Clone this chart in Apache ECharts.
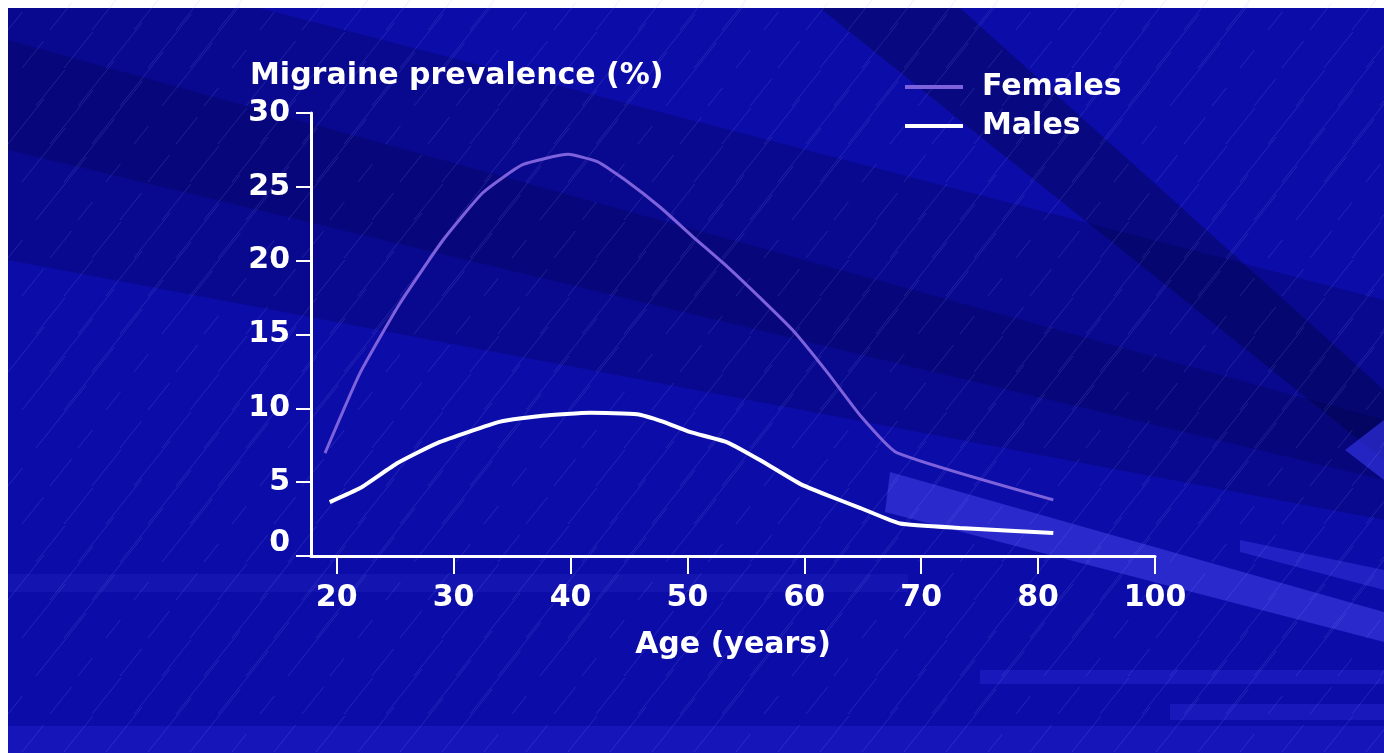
<!DOCTYPE html>
<html>
<head>
<meta charset="utf-8">
<style>
  html, body { margin: 0; padding: 0; background: #ffffff; }
  #chart { width: 1384px; height: 753px; }
</style>
<script src="https://cdn.jsdelivr.net/npm/echarts@6/dist/echarts.min.js"></script>
</head>
<body>
<div id="chart"></div>
<script>
// ---- Data ----
const femaleAges   = [19.0, 22.0, 25.4, 29.1, 32.5, 35.9, 39.8, 42.3, 44.8, 47.7, 50.5, 53.4, 56.2, 59.0, 62.0, 64.8, 67.9, 81.3];
const femaleValues = [6.97, 12.4, 17.1, 21.4, 24.6, 26.5, 27.2, 26.7, 25.4, 23.6, 21.6, 19.6, 17.5, 15.3, 12.4, 9.5, 7.0, 3.8];
const maleAges     = [19.4, 22.0, 25.2, 28.6, 34.0, 37.6, 41.7, 45.7, 47.9, 50.2, 53.4, 56.2, 59.6, 62.0, 64.8, 68.2, 73.3, 81.3];
const maleValues   = [3.65, 4.6, 6.3, 7.65, 9.1, 9.5, 9.7, 9.6, 9.1, 8.4, 7.7, 6.5, 4.9, 4.1, 3.25, 2.2, 1.9, 1.55];
// x tick positions on the (compressed) axis and the labels printed there
const xTickValues  = [20, 30, 40, 50, 60, 70, 80, 90];
const xTickLabels  = ['20', '30', '40', '50', '60', '70', '80', '100'];
const seriesNames  = ['Females', 'Males'];

const FONT = 'DejaVu Sans';
const femaleData = femaleAges.map((a, i) => [a, femaleValues[i]]);
const maleData   = maleAges.map((a, i) => [a, maleValues[i]]);

// ---- decorative background ----
const bg = [];
const deco = (el, z) => { el.z = z; el.silent = true; bg.push(el); };
deco({ type: 'rect', shape: { x: 8, y: 8, width: 1376, height: 745 }, style: { fill: '#0c0ca8' } }, -100);
deco({ type: 'polygon', shape: { points: [[8,8],[260,8],[1384,300],[1384,520],[8,260]] }, style: { fill: 'rgba(0,0,60,0.22)' } }, -99);
deco({ type: 'polygon', shape: { points: [[8,40],[8,150],[1384,480],[1384,420]] }, style: { fill: 'rgba(0,0,50,0.22)' } }, -98);
deco({ type: 'polygon', shape: { points: [[820,8],[960,8],[1384,390],[1384,460]] }, style: { fill: 'rgba(0,0,40,0.30)' } }, -97);
deco({ type: 'polygon', shape: { points: [[890,472],[1384,612],[1384,642],[885,512]] }, style: { fill: 'rgba(70,70,240,0.50)' } }, -96);
deco({ type: 'polygon', shape: { points: [[1345,450],[1384,420],[1384,480]] }, style: { fill: 'rgba(60,60,255,0.55)' } }, -96);
deco({ type: 'polygon', shape: { points: [[1240,540],[1384,570],[1384,590],[1240,552]] }, style: { fill: 'rgba(60,60,230,0.45)' } }, -96);
deco({ type: 'rect', shape: { x: 8, y: 574, width: 900, height: 18 }, style: { fill: 'rgba(40,40,200,0.30)' } }, -96);
deco({ type: 'rect', shape: { x: 980, y: 670, width: 404, height: 14 }, style: { fill: 'rgba(40,40,210,0.45)' } }, -96);
deco({ type: 'rect', shape: { x: 1170, y: 704, width: 214, height: 16 }, style: { fill: 'rgba(40,40,210,0.45)' } }, -96);
deco({ type: 'rect', shape: { x: 8, y: 726, width: 1376, height: 27 }, style: { fill: 'rgba(30,30,200,0.55)' } }, -96);
// faint diagonal streak texture (deterministic grid)
for (let gy = 0; gy < 20; gy++) {
  for (let gx = 0; gx < 34; gx++) {
    const x0 = 8 + gx * 42 + (gy % 3) * 14;
    const y0 = 30 + gy * 38;
    const len = 18 + ((gx * 7 + gy * 13) % 6) * 9;
    deco({ type: 'line', shape: { x1: x0, y1: y0, x2: x0 + len * 0.8, y2: y0 - len },
      style: { stroke: 'rgba(150,150,255,0.18)', lineWidth: 1 } }, -95);
  }
}
// y-axis title
deco({ type: 'text', x: 250, y: 76,
  style: { text: 'Migraine prevalence (%)', fill: '#ffffff', font: 'bold 30px "' + FONT + '"', textVerticalAlign: 'middle', textAlign: 'left' } }, 10);

const chart = echarts.init(document.getElementById('chart'), null, { renderer: 'canvas' });
chart.setOption({
  animation: false,
  backgroundColor: 'transparent',
  graphic: { elements: bg },
  grid: { left: 311, right: 229, top: 113, bottom: 197 },
  legend: {
    orient: 'vertical', left: 900, top: 67, itemGap: 9,
    icon: 'rect', itemWidth: 58, itemHeight: 4,
    data: seriesNames,
    textStyle: { color: '#ffffff', fontSize: 30, fontWeight: 'bold', fontFamily: FONT, padding: [0, 0, 0, 14] }
  },
  xAxis: {
    type: 'value', min: 17.8, max: 90,
    name: 'Age (years)', nameLocation: 'middle', nameGap: 74,
    nameTextStyle: { color: '#ffffff', fontSize: 30, fontWeight: 'bold', fontFamily: FONT },
    axisLine: { show: true, onZero: false, lineStyle: { color: '#ffffff', width: 3 } },
    axisTick: { show: true, customValues: xTickValues, length: 18, lineStyle: { color: '#ffffff', width: 2 } },
    axisLabel: {
      customValues: xTickValues, margin: 27,
      color: '#ffffff', fontSize: 30, fontWeight: 'bold', fontFamily: FONT,
      formatter: v => xTickLabels[xTickValues.indexOf(v)] ?? ''
    },
    splitLine: { show: false }
  },
  yAxis: {
    type: 'value', min: 0, max: 30, interval: 5,
    axisLine: { show: true, lineStyle: { color: '#ffffff', width: 3 } },
    axisTick: { show: true, length: 15, lineStyle: { color: '#ffffff', width: 2 } },
    axisLabel: {
      margin: 21, color: '#ffffff', fontSize: 30, fontWeight: 'bold', fontFamily: FONT,
      formatter: v => v === 0 ? '{z|0}' : String(v),
      rich: { z: { color: '#ffffff', fontSize: 30, fontWeight: 'bold', fontFamily: FONT, padding: [0, 0, 26, 0] } }
    },
    splitLine: { show: false }
  },
  series: [
    { name: seriesNames[0], type: 'line', data: femaleData, symbol: 'none', smooth: 0.15,
      lineStyle: { color: '#7e62dc', width: 3 }, itemStyle: { color: '#7e62dc' } },
    { name: seriesNames[1], type: 'line', data: maleData, symbol: 'none', smooth: 0.15,
      lineStyle: { color: '#ffffff', width: 4 }, itemStyle: { color: '#ffffff' } }
  ]
});
</script>
</body>
</html>
